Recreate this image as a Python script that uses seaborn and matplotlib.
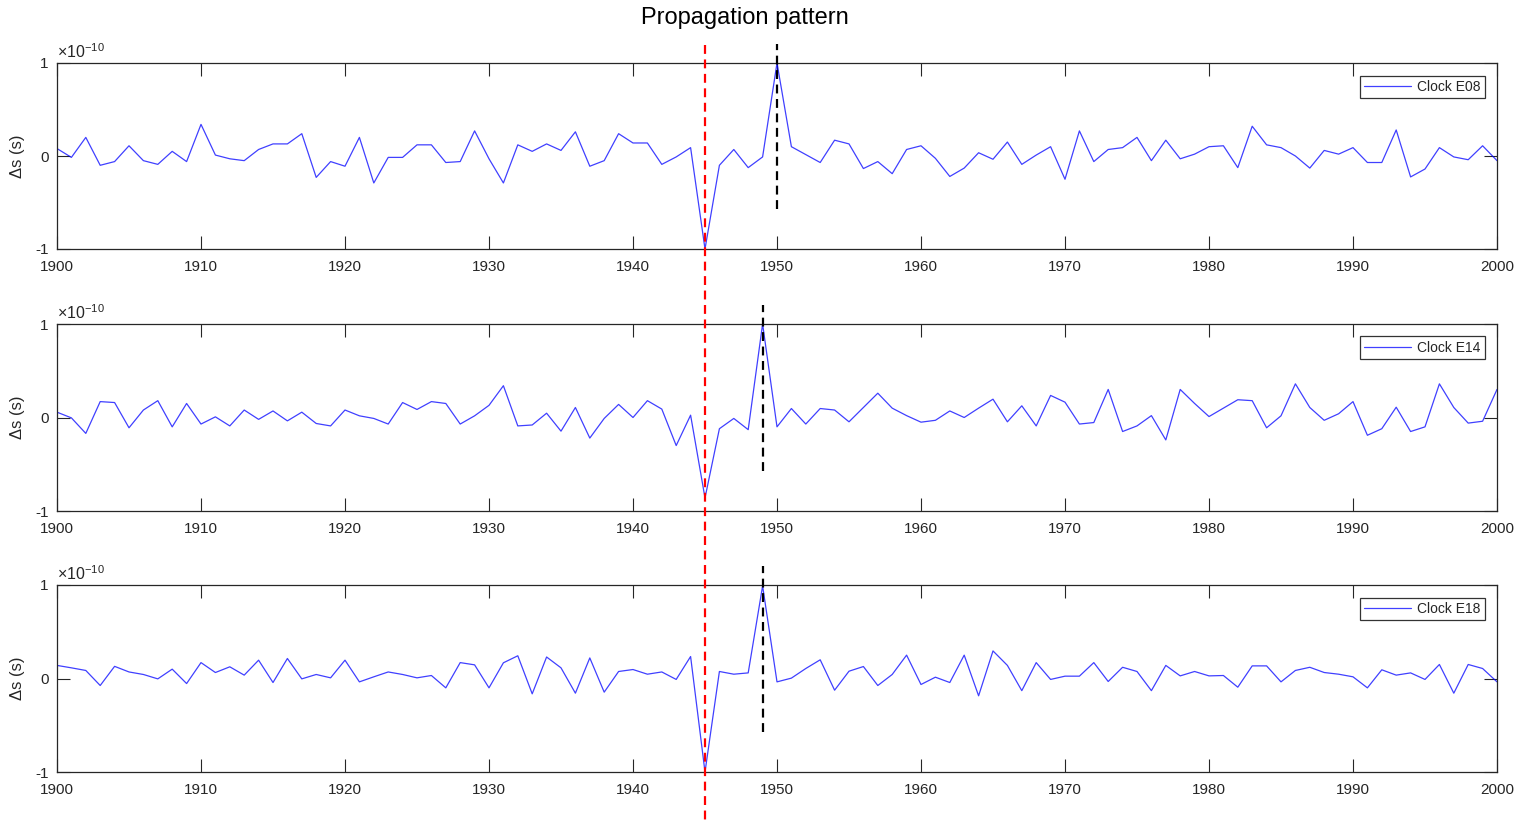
import numpy as np
import pandas as pd
import matplotlib
matplotlib.use("Agg")
import matplotlib.pyplot as plt
import matplotlib.transforms as mtransforms
import seaborn as sns

# Clock residuals, one value per year, in units of 1e-10 s
years = list(range(1900, 2001))

clock_e08 = [
    0.08, -0.015, 0.20, -0.10, -0.06, 0.11, -0.05, -0.09, 0.05, -0.06,
    0.34, 0.01, -0.03, -0.05, 0.07, 0.13, 0.13, 0.24, -0.23, -0.06,
    -0.11, 0.20, -0.29, -0.015, -0.015, 0.12, 0.12, -0.07, -0.06, 0.27,
    -0.03, -0.29, 0.12, 0.05, 0.13, 0.06, 0.26, -0.11, -0.05, 0.24,
    0.14, 0.14, -0.09, -0.01, 0.09, -1.0, -0.10, 0.07, -0.125, -0.01,
    1.0, 0.10, 0.015, -0.07, 0.17, 0.13, -0.135, -0.06, -0.19, 0.07,
    0.11, -0.025, -0.22, -0.13, 0.035, -0.035, 0.15, -0.09, 0.01, 0.10,
    -0.25, 0.27, -0.06, 0.07, 0.09, 0.20, -0.05, 0.17, -0.03, 0.02,
    0.10, 0.11, -0.125, 0.32, 0.12, 0.09, 0.0, -0.13, 0.06, 0.02,
    0.09, -0.07, -0.07, 0.28, -0.225, -0.14, 0.09, -0.01, -0.04, 0.11,
    -0.05,
]

clock_e14 = [
    0.057, -0.004, -0.17, 0.17, 0.16, -0.11, 0.08, 0.18, -0.10, 0.15,
    -0.07, 0.007, -0.09, 0.08, -0.02, 0.07, -0.036, 0.057, -0.064, -0.09,
    0.08, 0.018, -0.01, -0.07, 0.16, 0.086, 0.17, 0.15, -0.07, 0.018,
    0.13, 0.34, -0.09, -0.08, 0.046, -0.146, 0.107, -0.22, -0.01, 0.14,
    0.0, 0.18, 0.09, -0.30, 0.025, -0.86, -0.12, -0.01, -0.13, 1.0,
    -0.10, 0.096, -0.07, 0.096, 0.08, -0.046, 0.107, 0.26, 0.10, 0.02,
    -0.05, -0.03, 0.07, 0.0, 0.10, 0.196, -0.046, 0.125, -0.09, 0.236,
    0.164, -0.07, -0.054, 0.30, -0.15, -0.09, 0.02, -0.24, 0.30, 0.15,
    0.01, 0.10, 0.19, 0.18, -0.11, 0.018, 0.36, 0.107, -0.03, 0.04,
    0.17, -0.19, -0.12, 0.11, -0.15, -0.10, 0.36, 0.107, -0.06, -0.04,
    0.30,
]

clock_e18 = [
    0.14, 0.114, 0.086, -0.075, 0.13, 0.07, 0.043, -0.004, 0.10, -0.054,
    0.17, 0.064, 0.125, 0.036, 0.196, -0.043, 0.214, -0.004, 0.043, 0.007,
    0.196, -0.036, 0.018, 0.07, 0.043, 0.007, 0.032, -0.10, 0.17, 0.146,
    -0.10, 0.168, 0.243, -0.164, 0.23, 0.114, -0.157, 0.22, -0.146, 0.075,
    0.096, 0.046, 0.07, -0.01, 0.235, -1.0, 0.075, 0.046, 0.06, 0.99,
    -0.036, 0.004, 0.107, 0.20, -0.125, 0.078, 0.128, -0.075, 0.043, 0.25,
    -0.064, 0.014, -0.043, 0.25, -0.185, 0.295, 0.14, -0.13, 0.17, -0.01,
    0.025, 0.025, 0.17, -0.032, 0.12, 0.075, -0.13, 0.14, 0.028, 0.075,
    0.028, 0.032, -0.093, 0.135, 0.135, -0.036, 0.086, 0.12, 0.064, 0.046,
    0.018, -0.10, 0.093, 0.036, 0.06, -0.01, 0.15, -0.157, 0.15, 0.107,
    -0.036,
]

clock_names = ["Clock E08", "Clock E14", "Clock E18"]
clock_series = [clock_e08, clock_e14, clock_e18]
peak_years = [1950, 1949, 1949]
event_year = 1945
scale_exponent = -10

x_ticks = list(range(1900, 2001, 10))
y_ticks = [-1, 0, 1]

sns.set_theme(style="white")
plt.rcParams["font.family"] = ["Liberation Sans", "DejaVu Sans"]
plt.rcParams["mathtext.fontset"] = "custom"
plt.rcParams["mathtext.rm"] = "Liberation Sans"
plt.rcParams["mathtext.it"] = "Liberation Sans:italic"
plt.rcParams["axes.unicode_minus"] = False

W, H = 1514, 821
fig = plt.figure(figsize=(W / 100, H / 100), dpi=100)

# axes boxes in pixels: (top, bottom)
left_px, right_px = 57, 1497
rows_px = [(63, 249), (324, 511), (585, 772)]

dark = "#262626"
axes = []
for (top, bot), name, vals, peak in zip(rows_px, clock_names, clock_series, peak_years):
    ax = fig.add_axes([left_px / W, 1 - bot / H, (right_px - left_px) / W, (bot - top) / H])
    df = pd.DataFrame({"year": years, "ds": vals})
    sns.lineplot(data=df, x="year", y="ds", ax=ax, color="#0000ff", linewidth=0.9,
                 label=name, alpha=0.75)
    ax.set_xlim(1900, 2000)
    ax.set_ylim(-1, 1)
    ax.set_xticks(x_ticks)
    ax.set_yticks(y_ticks)
    ax.set_xticklabels([str(t) for t in x_ticks])
    ax.set_yticklabels([str(t) for t in y_ticks])
    ax.tick_params(direction="in", length=9.5, width=0.8, color=dark, labelsize=11,
                   labelcolor=dark, top=True, right=True, bottom=True, left=True)
    ax.tick_params(axis="x", pad=8)
    ax.tick_params(axis="y", pad=6)
    for s in ax.spines.values():
        s.set_visible(True)
        s.set_color(dark)
        s.set_linewidth(0.9)
    ax.set_xlabel("")
    ax.set_ylabel("Δs (s)", fontsize=12, color=dark)
    ax.yaxis.set_label_coords(-0.022, 0.5)
    ax.text(0.0, 1.01, r"$\times$10$^{%d}$" % scale_exponent, transform=ax.transAxes,
            ha="left", va="bottom", fontsize=11.5, color=dark)
    # dashed marker at the peak year
    ax.plot([peak, peak], [-0.57, 1.2], color="black", linestyle=(0, (4, 2.5)),
            linewidth=1.6, clip_on=False, zorder=5)
    leg = ax.legend(loc="upper right", fontsize=10, frameon=True, fancybox=False,
                    handlelength=3.4, borderpad=0.3, handletextpad=0.4,
                    borderaxespad=0.9)
    leg.get_frame().set_edgecolor("black")
    leg.get_frame().set_linewidth(0.9)
    for t in leg.get_texts():
        t.set_color(dark)
    axes.append(ax)

# red dashed line marking the event year across all panels
trans = mtransforms.blended_transform_factory(axes[0].transData, fig.transFigure)
event_line = plt.Line2D([event_year, event_year], [1 - 45 / H, 0.0], transform=trans,
                        color="#ff0000", linestyle=(0, (4, 2.5)), linewidth=1.6, zorder=10)
fig.add_artist(event_line)

fig.text(745 / W, 1 - 18 / H, "Propagation pattern", ha="center", va="center",
         fontsize=17, color="black")

fig.savefig("out.png", dpi=100)
